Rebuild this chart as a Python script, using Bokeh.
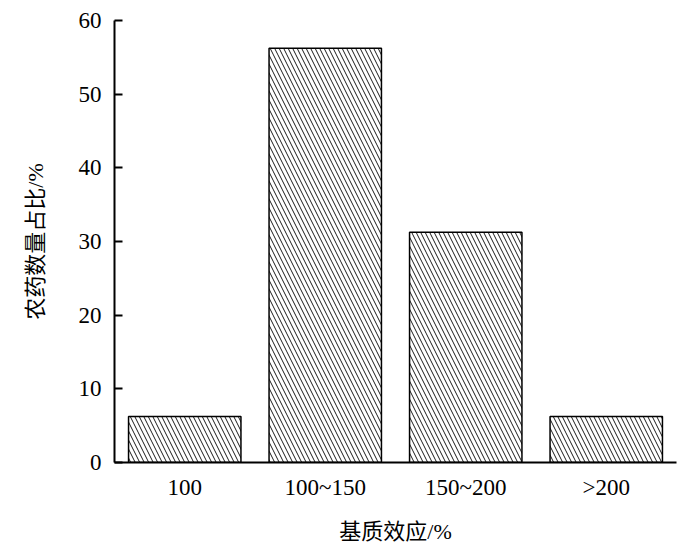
from bokeh.plotting import figure
from bokeh.models import ColumnDataSource, FactorRange, Range1d, FixedTicker
from bokeh.embed import file_html
from bokeh.resources import INLINE

categories = ["100", "100~150", "150~200", ">200"]
values = [6.25, 56.25, 31.25, 6.25]
y_ticks = [0, 10, 20, 30, 40, 50, 60]

FONT = "Liberation Serif, Noto Sans CJK SC"

src = ColumnDataSource(dict(cat=categories, val=values))

p = figure(x_range=FactorRange(*categories, range_padding=0),
           y_range=Range1d(0, 60),
           width=692, height=549,
           frame_width=562, frame_height=442,
           min_border_left=114, min_border_right=16,
           min_border_top=20, min_border_bottom=87,
           output_backend="svg", toolbar_location=None)

p.vbar(x="cat", top="val", width=0.8, source=src,
       fill_color="white", line_color="black", line_width=1.5,
       hatch_pattern="left_diagonal_line", hatch_color="black",
       hatch_scale=9, hatch_weight=0.9)

p.outline_line_color = None
p.xgrid.grid_line_color = None
p.ygrid.grid_line_color = None

p.yaxis.ticker = FixedTicker(ticks=y_ticks)
p.yaxis.major_tick_in = 8
p.yaxis.major_tick_out = 0
p.yaxis.minor_tick_line_color = None
p.yaxis.major_label_standoff = 13
p.yaxis.axis_label = "农药数量占比/%"
p.yaxis.axis_label_standoff = 28

p.xaxis.major_tick_line_color = None
p.xaxis.minor_tick_line_color = None
p.xaxis.major_label_standoff = 6
p.xaxis.axis_label = "基质效应/%"
p.xaxis.axis_label_standoff = 16

for ax in (p.xaxis[0], p.yaxis[0]):
    ax.axis_line_color = "black"
    ax.axis_line_width = 2
    ax.major_tick_line_width = 2
    ax.major_label_text_font = FONT
    ax.major_label_text_font_size = "23px"
    ax.major_label_text_color = "black"
    ax.axis_label_text_font = FONT
    ax.axis_label_text_font_size = "22px"
    ax.axis_label_text_font_style = "normal"
    ax.axis_label_text_color = "black"

p.xaxis.major_tick_line_color = None

open("out.html", "w").write(file_html(p, INLINE))
